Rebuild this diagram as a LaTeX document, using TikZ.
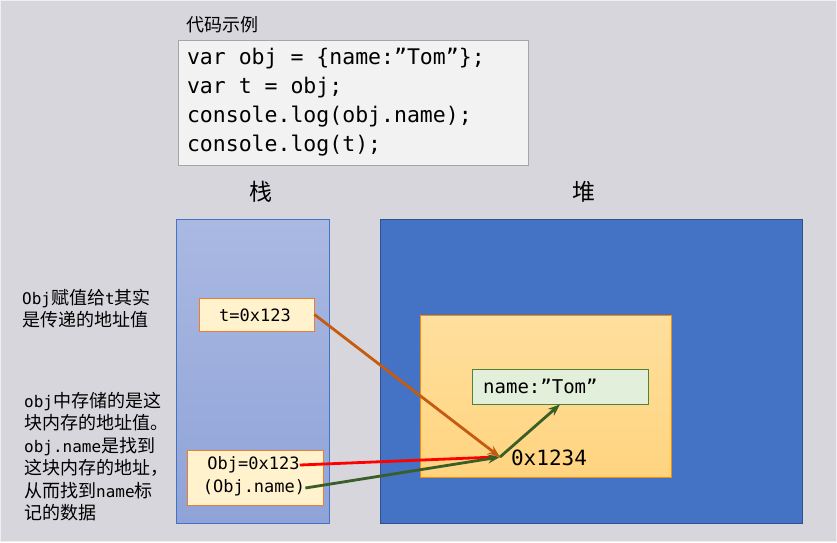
\documentclass[tikz,border=0pt]{standalone}
\usepackage{fontspec}
\setmainfont{DejaVu Sans Mono}
\setmonofont{DejaVu Sans Mono}
\newfontfamily\cjk{Noto Sans CJK SC}
\usetikzlibrary{arrows.meta, positioning, calc}

\definecolor{pagebg}{HTML}{D6D6DC}
\definecolor{codefill}{HTML}{F2F2F2}
\definecolor{stacktop}{HTML}{AAB9E2}
\definecolor{stackbot}{HTML}{8FA3D8}
\definecolor{heapblue}{HTML}{4472C4}
\definecolor{heapedge}{HTML}{2F528F}
\definecolor{memtop}{HTML}{FFDF9E}
\definecolor{membot}{HTML}{FFD47F}
\definecolor{namefill}{HTML}{E2EFDA}
\definecolor{namegreen}{HTML}{548235}
\definecolor{valfill}{HTML}{FFF2CC}
\definecolor{valorange}{HTML}{ED7D31}
\definecolor{refbrown}{HTML}{C55A11}
\definecolor{refgreen}{HTML}{3A5E27}

\newcommand{\lt}[1]{{\ttfamily\fontsize{16}{22.5}\selectfont #1}}
\newcommand{\sk}{\hphantom{x}}

\begin{document}
\begin{tikzpicture}[x=1pt, y=-1pt,
    box/.style={draw, rectangle, inner sep=0pt, line width=0.8pt},
    valbox/.style={box, draw=valorange, fill=valfill},
    mono/.style={font=\ttfamily\fontsize{17}{23}\selectfont, inner sep=0pt},
    note/.style={font=\cjk\fontsize{18}{22.5}\selectfont, align=left, anchor=north west, inner sep=0pt},
    title/.style={font=\cjk\fontsize{23}{26}\selectfont, inner sep=0pt},
    ref/.style={-{Stealth[length=12pt, width=9pt]}, line width=2.8pt}
  ]

    % Background
    \fill[pagebg, draw=white!60!pagebg, line width=1pt] (0.5,0.5) rectangle (836.5,541.5);
    \useasboundingbox (0,0) rectangle (837,542);

    % Code sample
    \node[font=\cjk\fontsize{18}{22}\selectfont, anchor=west, inner sep=0pt] (codetitle) at (186,25) {代码示例};
    \node[box, draw=gray!70, fill=codefill, minimum width=350pt, minimum height=125pt,
          text width=332pt, align=left, font=\ttfamily\fontsize{21.5}{29}\selectfont] (code) at (353,102.5) {
      var\sk obj\sk =\sk \{name:”Tom”\};\\
      var\sk t\sk =\sk obj;\\
      console.log(obj.name);\\
      console.log(t);
    };

    % Stack and heap
    \node[title] (stacktitle) at (261,192) {栈};
    \node[title] (heaptitle) at (584,192) {堆};
    \node[box, draw=heapblue, top color=stacktop, bottom color=stackbot,
          minimum width=153pt, minimum height=304pt] (stack) at (252.5,371) {};
    \node[box, draw=heapedge, fill=heapblue,
          minimum width=422pt, minimum height=304pt] (heap) at (591,371) {};

    % Memory block
    \node[box, draw=orange!90!yellow, top color=memtop, bottom color=membot,
          minimum width=251pt, minimum height=162pt] (mem) at (545.5,396) {};
    \node[box, draw=namegreen, fill=namefill, minimum width=176pt, minimum height=35pt] (name) at (560,386.5) {};
    \node[mono, font=\ttfamily\fontsize{19}{23}\selectfont, anchor=west] (nametxt) at (483,386.5) {name:”Tom”};
    \node[mono, font=\ttfamily\fontsize{21}{25}\selectfont] (addrtxt) at (549,458) {0x1234};
    \coordinate (addr) at (500,457);

    % Stack values
    \node[valbox, minimum width=115pt, minimum height=33pt] (t) at (256.5,314.5) {};
    \node[mono] (tval) at (255,315) {t=0x123};
    \node[valbox, minimum width=136pt, minimum height=55pt] (obj) at (255,477.5) {};
    \node[mono] (objval) at (253.5,465) {Obj=0x123};
    \node[mono] (objref) at (254,488) {(Obj.name)};

    % Notes
    \node[note] (note1) at (22,289) {\lt{Obj}赋值给\lt{t}其实\\是传递的地址值};
    \node[note] (note2) at (24,392) {\lt{obj}中存储的是这\\块内存的地址值。\\\lt{obj.name}是找到\\这块内存的地址，\\从而找到\lt{name}标\\记的数据};

    % Arrows
    \draw[line width=2.8pt, red] (objval.east) -- ($(addr)+(-4,0)$);
    \draw[ref, refbrown] (t.east) -- (addr);
    \draw[ref, refgreen] (objref.east) -- (addr);
    \draw[ref, refgreen] (addr) -- (name.south);

  \end{tikzpicture}
\end{document}
